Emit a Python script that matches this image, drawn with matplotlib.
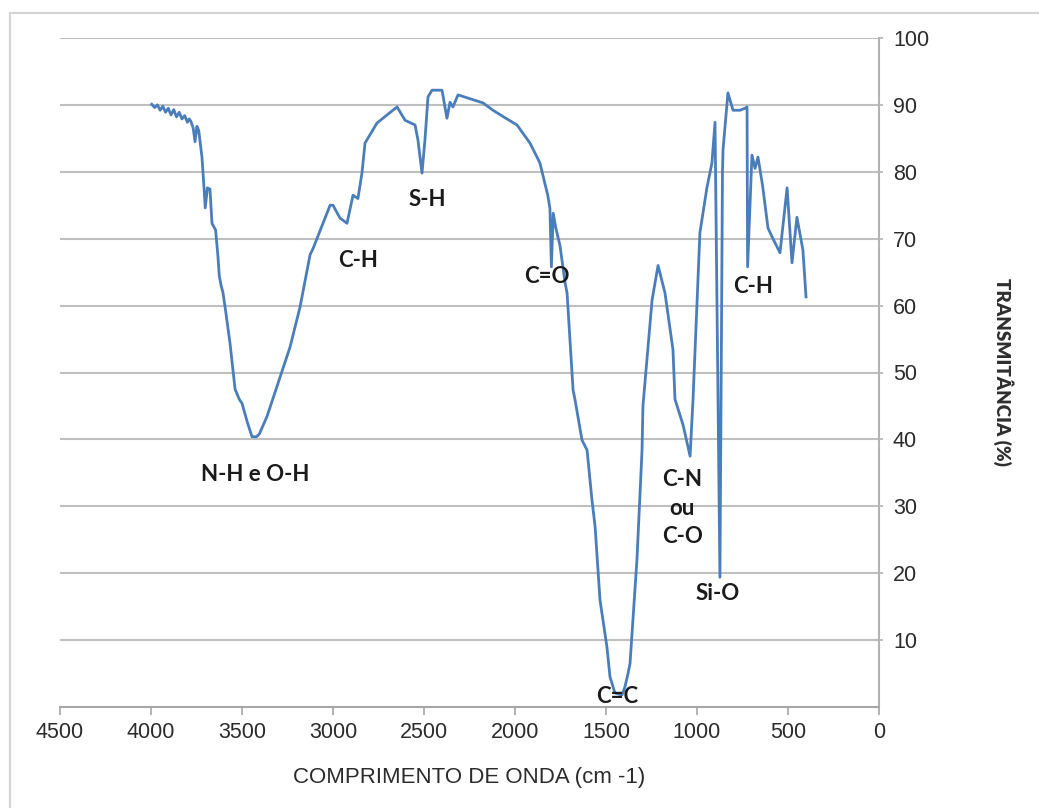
import matplotlib
matplotlib.use("Agg")
import matplotlib.pyplot as plt
from matplotlib.patches import Rectangle

# FTIR spectrum: wavenumber (cm-1) and transmittance (%)
wavenumber = [
    3996, 3980, 3965, 3950, 3935, 3920, 3905, 3890, 3875, 3860, 3845, 3830,
    3815, 3800, 3790, 3780, 3768, 3758, 3748, 3738, 3720, 3708, 3702, 3690,
    3676, 3665, 3645, 3632, 3625, 3615, 3605, 3593, 3566, 3538, 3515, 3500,
    3470, 3445, 3420, 3405, 3363, 3291, 3236, 3181, 3126, 3110, 3016, 3000,
    2962, 2923, 2890, 2863, 2841, 2824, 2758, 2648, 2604, 2549, 2533, 2511,
    2495, 2478, 2456, 2401, 2385, 2374, 2357, 2341, 2313, 2176, 2121, 2050,
    1989, 1918, 1879, 1863, 1820, 1808, 1800, 1790, 1775, 1753, 1725, 1714,
    1681, 1670, 1632, 1604, 1577, 1560, 1533, 1495, 1478, 1451, 1412, 1396,
    1379, 1368, 1330, 1302, 1297, 1247, 1214, 1176, 1132, 1121, 1077, 1038,
    1022, 984, 945, 918, 901, 874, 860, 857, 830, 802, 764, 736, 725, 722,
    698, 681, 665, 640, 610, 588, 544, 505, 478, 451, 418, 401,
]
transmittance = [
    90.1, 89.6, 90.0, 89.2, 89.8, 88.9, 89.5, 88.5, 89.3, 88.2, 88.9, 87.9,
    88.4, 87.4, 87.9, 87.5, 86.5, 84.5, 86.8, 86.2, 82.2, 77.3, 74.6, 77.6,
    77.4, 72.3, 71.3, 67.3, 64.5, 63.0, 62.0, 59.8, 54.4, 47.5, 46.0, 45.4,
    42.5, 40.4, 40.4, 40.8, 43.4, 49.3, 53.8, 59.8, 67.6, 68.5, 75.0, 75.0,
    73.1, 72.3, 76.5, 76.0, 79.8, 84.3, 87.3, 89.7, 87.7, 87.0, 84.7, 79.8,
    84.7, 91.2, 92.2, 92.2, 89.7, 88.0, 90.4, 89.7, 91.5, 90.3, 89.2, 88.0,
    87.0, 84.3, 82.2, 81.3, 76.5, 74.5, 65.8, 73.8, 71.5, 69.0, 63.4, 61.9,
    47.4, 45.9, 39.9, 38.4, 30.9, 27.0, 16.0, 9.0, 4.5, 2.1, 1.8, 3.0,
    5.0, 6.5, 22.0, 38.4, 45.0, 60.8, 66.0, 61.9, 53.4, 46.0, 42.2, 37.5,
    45.9, 70.9, 77.7, 81.3, 87.4, 19.4, 80.0, 83.3, 91.8, 89.2, 89.2, 89.5, 89.7, 65.8,
    82.5, 80.5, 82.2, 78.0, 71.6, 70.3, 67.9, 77.6, 66.4, 73.2, 68.3, 61.3,
]

# Band assignments and where their labels sit (wavenumber, transmittance)
band_labels = ["N-H e O-H", "C-H", "S-H", "C=O", "C=C", "C-N\nou\nC-O", "Si-O", "C-H"]
band_label_x = [3429, 2863, 2484, 1824, 1440, 1082, 885, 692]
band_label_y = [34.8, 66.8, 75.8, 64.3, 1.5, 29.7, 16.9, 62.9]

x_ticks = [4500, 4000, 3500, 3000, 2500, 2000, 1500, 1000, 500, 0]
y_ticks = [10, 20, 30, 40, 50, 60, 70, 80, 90, 100]

W, H = 1039, 808
fig = plt.figure(figsize=(W / 100, H / 100), dpi=100)
fig.patch.set_facecolor("white")

# outer chart frame
fig.patches.append(Rectangle((10 / W, -0.05), 1.1, (H - 13) / H + 0.05,
                             transform=fig.transFigure, fill=False,
                             edgecolor="#d4d4d4", linewidth=1.6))

ax = fig.add_axes([60 / W, (H - 707) / H, (879 - 60) / W, (707 - 38) / H])
ax.set_xlim(4500, 0)
ax.set_ylim(0, 100)

grid_color = "#bfbfbf"
for y in y_ticks:
    ax.axhline(y, color=grid_color, linewidth=1.5, zorder=1)

ax.plot(wavenumber, transmittance, color="#4A7EBB", linewidth=2.0,
        solid_joinstyle="round", zorder=3)

for s in ["top", "left"]:
    ax.spines[s].set_visible(False)
ax.spines["bottom"].set_color("#a6a6a6")
ax.spines["bottom"].set_linewidth(1.5)
ax.spines["right"].set_color("#b3b3b3")
ax.spines["right"].set_linewidth(1.5)

tick_font = dict(family="Liberation Sans", size=15.5, color="#2b2b2b")
ax.set_xticks(x_ticks)
ax.set_xticklabels([str(v) for v in x_ticks], **tick_font)
ax.tick_params(axis="x", direction="out", length=6, width=1.2,
               color="#a6a6a6", pad=5)
ax.yaxis.tick_right()
ax.set_yticks(y_ticks)
ax.set_yticklabels([str(v) for v in y_ticks], **tick_font)
ax.tick_params(axis="y", direction="out", length=3, width=1.2,
               color="#b3b3b3", pad=7)

ax.set_xlabel("COMPRIMENTO DE ONDA (cm -1)", fontfamily="Liberation Sans",
              fontsize=16, color="#2b2b2b", labelpad=17)

fig.text(1003 / W, (H - 372) / H, "TRANSMITÂNCIA (%)", rotation=270,
         ha="center", va="center", fontfamily="Lato", fontweight="heavy",
         fontsize=13.5, color="#2e2e2e")

for label, lx, ly in zip(band_labels, band_label_x, band_label_y):
    ax.text(lx, ly, label, ha="center", va="center", fontfamily="Lato",
            fontweight="bold", fontsize=16, color="#1a1a1a",
            linespacing=1.45, zorder=4)

fig.savefig("out.png", dpi=100, facecolor="white")
